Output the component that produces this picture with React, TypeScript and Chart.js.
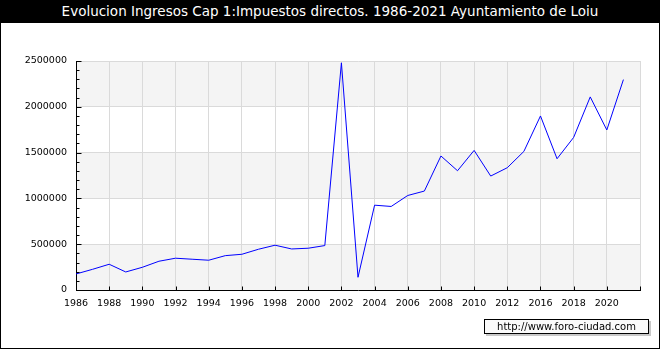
import React, { useEffect, useRef } from "react";
import { Chart, registerables } from "chart.js";

Chart.register(...registerables);

const TITLE = "Evolucion Ingresos Cap 1:Impuestos directos. 1986-2021 Ayuntamiento de Loiu";
const WATERMARK = "http://www.foro-ciudad.com";

// Categories as they appear on the axis (one year between 2012 and 2016 is absent); last slot is an empty trailing slot
const years: string[] = [
  "1986", "1987", "1988", "1989", "1990", "1991", "1992", "1993", "1994", "1995",
  "1996", "1997", "1998", "1999", "2000", "2001", "2002", "2003", "2004", "2005",
  "2006", "2007", "2008", "2009", "2010", "2011", "2012", "2014", "2016", "2017",
  "2018", "2019", "2020", "2021", "",
];

const ingresos: (number | null)[] = [
  175000, 226000, 281000, 197000, 248000, 314000, 347000, 336000, 325000, 375000,
  390000, 445000, 489000, 448000, 456000, 485000, 2480000, 139000, 926000, 912000,
  1032000, 1080000, 1463000, 1302000, 1524000, 1244000, 1335000, 1513000, 1900000, 1433000,
  1666000, 2108000, 1747000, 2297000, null,
];

const yMin = 0;
const yMax = 2500000;
const yStep = 500000;
const yMinorStep = 100000;
const shadedBands: [number, number][] = [
  [0, 500000],
  [1000000, 1500000],
  [2000000, 2500000],
];

const FONT = "'DejaVu Sans', Verdana, sans-serif";

const bandsPlugin = {
  id: "bands",
  beforeDraw(chart: any) {
    const { ctx, chartArea, scales } = chart;
    const y = scales.y;
    ctx.save();
    ctx.fillStyle = "#f4f4f4";
    for (const [a, b] of shadedBands) {
      const y1 = y.getPixelForValue(b);
      const y2 = y.getPixelForValue(a);
      ctx.fillRect(chartArea.left, y1, chartArea.right - chartArea.left, y2 - y1);
    }
    ctx.restore();
  },
};

const innerTicksPlugin = {
  id: "innerTicks",
  afterDraw(chart: any) {
    const { ctx, chartArea, scales } = chart;
    const x = scales.x;
    const y = scales.y;
    ctx.save();
    ctx.strokeStyle = "#000";
    ctx.lineWidth = 1;
    ctx.beginPath();
    const left = Math.round(chartArea.left) + 0.5;
    for (let v = yMin; v <= yMax; v += yMinorStep) {
      const py = Math.round(y.getPixelForValue(v)) + 0.5;
      const len = v % yStep === 0 ? 5 : 3;
      ctx.moveTo(left, py);
      ctx.lineTo(left + len, py);
    }
    const bottom = Math.round(chartArea.bottom) + 0.5;
    for (let i = 0; i < years.length; i += 2) {
      const px = Math.round(x.getPixelForValue(i)) + 0.5;
      ctx.moveTo(px, bottom);
      ctx.lineTo(px, bottom - 4);
    }
    ctx.stroke();
    ctx.restore();
  },
};

export default function App() {
  const canvasRef = useRef<HTMLCanvasElement | null>(null);

  useEffect(() => {
    if (!canvasRef.current) return;
    const chart = new Chart(canvasRef.current, {
      type: "line",
      data: {
        labels: years,
        datasets: [
          {
            data: ingresos,
            borderColor: "#0000ff",
            borderWidth: 1,
            pointRadius: 0,
            tension: 0,
            fill: false,
            spanGaps: false,
          },
        ],
      },
      options: {
        animation: false,
        responsive: false,
        events: [],
        layout: { padding: { left: 0, top: 61, right: 20, bottom: 0 } },
        plugins: {
          legend: { display: false },
          title: { display: false },
          tooltip: { enabled: false },
        },
        scales: {
          x: {
            type: "category",
            offset: false,
            afterFit: (s: any) => {
              s.height = 60;
            },
            grid: {
              drawTicks: false,
              color: (c: any) => (c.index % 2 === 0 && c.index !== 0 ? "#dadada" : "rgba(0,0,0,0)"),
              lineWidth: 1,
            },
            border: { display: true, color: "#000", width: 1 },
            ticks: {
              autoSkip: false,
              maxRotation: 0,
              minRotation: 0,
              padding: 8,
              color: "#000",
              font: { family: FONT, size: 9.5 },
              callback: (_v: any, i: number) => (i % 2 === 0 ? years[i] : ""),
            },
          },
          y: {
            min: yMin,
            max: yMax,
            afterFit: (s: any) => {
              s.width = 76;
            },
            grid: {
              drawTicks: false,
              color: (c: any) => (c.tick && c.tick.value !== 0 ? "#dadada" : "rgba(0,0,0,0)"),
              lineWidth: 1,
            },
            border: { display: true, color: "#000", width: 1 },
            ticks: {
              stepSize: yStep,
              padding: 9,
              color: "#000",
              font: { family: FONT, size: 9.5 },
              callback: (v: any) => String(v),
            },
          },
        },
      },
      plugins: [bandsPlugin, innerTicksPlugin],
    });
    return () => chart.destroy();
  }, []);

  return (
    <div
      style={{
        position: "absolute",
        left: 0,
        top: 0,
        width: 660,
        height: 350,
        background: "#fff",
        overflow: "hidden",
      }}
    >
      <canvas
        ref={canvasRef}
        width={660}
        height={350}
        style={{ position: "absolute", left: 0, top: 0, width: 660, height: 350 }}
      />
      <div
        style={{
          position: "absolute",
          left: 0,
          top: 0,
          width: 660,
          height: 23,
          background: "#000",
          color: "#fff",
          fontFamily: FONT,
          fontSize: 13.5,
          lineHeight: "23px",
          textAlign: "center",
          whiteSpace: "nowrap",
        }}
      >
        {TITLE}
      </div>
      <div
        style={{
          position: "absolute",
          left: 0,
          top: 0,
          width: 660,
          height: 349,
          boxSizing: "border-box",
          borderLeft: "1px solid #000",
          borderRight: "1px solid #000",
          borderBottom: "1px solid #000",
          pointerEvents: "none",
        }}
      />
      <div
        style={{
          position: "absolute",
          left: 484,
          top: 319,
          width: 165,
          height: 15,
          boxSizing: "border-box",
          border: "1px solid #000",
          background: "#fafafa",
          boxShadow: "2px 2px 0 #c8c8c8",
          color: "#000",
          fontFamily: FONT,
          fontSize: 10,
          lineHeight: "13px",
          textAlign: "center",
          whiteSpace: "nowrap",
        }}
      >
        {WATERMARK}
      </div>
    </div>
  );
}
